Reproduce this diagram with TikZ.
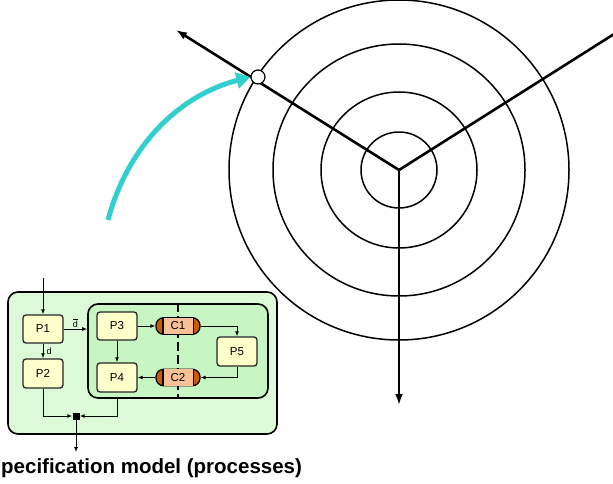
\documentclass[tikz,border=0pt]{standalone}
\usepackage{fontspec}
\setmainfont{Liberation Sans}
\usetikzlibrary{arrows.meta,calc}
\definecolor{outerg}{RGB}{221,250,216}
\definecolor{innerg}{RGB}{200,246,194}
\definecolor{pfill}{RGB}{255,255,204}
\definecolor{cdark}{RGB}{200,90,10}
\definecolor{clight}{RGB}{250,192,150}
\definecolor{cyanarrow}{RGB}{51,206,206}
\begin{document}
\begin{tikzpicture}[x=1pt,y=-1pt,
  ring/.style={draw=black,line width=1.5pt,circle,inner sep=0pt},
  radial/.style={line width=2.6pt,draw=black},
  pbox/.style={draw=black!85,line width=1.3pt,rounded corners=3pt,fill=pfill,
    minimum width=40pt,minimum height=28pt,inner sep=0pt,font=\fontsize{11.5}{12}\selectfont},
  cshape/.style={draw=black,line width=1.2pt,rounded corners=7.5pt,fill=cdark,
    minimum width=44pt,minimum height=16.5pt,inner sep=0pt},
  ctext/.style={font=\fontsize{11.5}{12}\selectfont,inner sep=0pt},
  flow/.style={line width=1pt,-{Latex[length=5pt,width=4pt]}},
  small/.style={font=\fontsize{9}{10}\selectfont,inner sep=1pt}]
\useasboundingbox (0,0) rectangle (613,483);
\begin{scope}
\clip (0,0) rectangle (613,483);
% rings
\coordinate (ctr) at (399,170);
\node[ring,minimum size=76pt] (r1) at (ctr) {};
\node[ring,minimum size=156pt] (r2) at (ctr) {};
\node[ring,minimum size=252pt] (r3) at (ctr) {};
\node[ring,minimum size=340pt] (r4) at (ctr) {};
% radial lines
\coordinate (ul) at (176,30);
\coordinate (ur) at (622,29);
\coordinate (dn) at (399,405);
\draw[radial,-{Latex[length=11pt,width=8pt]}] (ctr) -- (ul);
\draw[radial] (ctr) -- (ur);
\draw[radial,-{Latex[length=11pt,width=8pt]}] (ctr) -- (dn);
\node[circle,draw=black,line width=1.2pt,fill=white,minimum size=14pt,inner sep=0pt] (pt) at (258,77) {};
% cyan arrow
\coordinate (cs) at (108,220);
\draw[cyanarrow,line width=5pt,-{Triangle[length=14pt,width=16pt]}] (cs) .. controls (128,145) and (180,95) .. (pt.west);
\end{scope}
% process model
\node[draw=black,line width=1.6pt,rounded corners=10pt,fill=outerg,minimum width=269pt,minimum height=142pt,inner sep=0pt] (outer) at (142.5,363) {};
\node[draw=black,line width=1.6pt,rounded corners=10pt,fill=innerg,minimum width=180pt,minimum height=94pt,inner sep=0pt] (inner) at (178,351) {};
\draw[line width=1.6pt,dash pattern=on 9pt off 4pt] (inner.north) -- (inner.south);
\node[pbox] (p1) at (43,329) {P1};
\node[pbox,minimum height=29pt] (p2) at (43,373.5) {P2};
\node[pbox] (p3) at (117,326) {P3};
\node[pbox,minimum height=29pt] (p4) at (117,377.5) {P4};
\node[pbox,minimum height=29pt] (p5) at (237,351.5) {P5};
\foreach \n/\y in {c1/326,c2/377.5}{
  \node[cshape] (\n) at (178,\y) {};
  \fill[clight] ($(\n.north west)+(7.5,0.6)$) rectangle ($(\n.south east)+(-7.5,-0.6)$);
  \draw[line width=1.2pt] ($(\n.north west)+(7.5,0)$) -- ($(\n.south west)+(7.5,0)$);
  \draw[line width=1.2pt] ($(\n.north east)+(-7.5,0)$) -- ($(\n.south east)+(-7.5,0)$);
}
\node[ctext] (c1t) at (c1) {C1};
\node[ctext] (c2t) at (c2) {C2};
\coordinate (in1) at (43,278);
\node[fill=black,minimum size=7pt,inner sep=0pt] (j) at (76,416) {};
\coordinate (out) at (76,452);
\draw[flow] (in1) -- (p1.north);
\draw[flow] (p1.east) -- (p1.east -| inner.west) node[small,midway,above] {$\overline{\mathrm{d}}$};
\draw[flow] (p1.south) -- (p2.north) node[small,midway,right,xshift=2pt] {d};
\draw[flow] (p3.east) -- (c1.west);
\draw[flow] (c1.east) -| (p5.north);
\draw[flow] (p5.south) |- (c2.east);
\draw[flow] (c2.west) -- (p4.east);
\draw[flow] (p3.south) -- (p4.north);
\draw[flow] (p2.south) |- (j.west);
\draw[flow] (p4.south |- inner.south) |- (j.east);
\draw[flow] (j.south) -- (out);
\node[anchor=base west,inner sep=0pt,font=\fontsize{20.5}{24}\bfseries] (title) at (1,473) {pecification model (processes)};
\end{tikzpicture}
\end{document}
